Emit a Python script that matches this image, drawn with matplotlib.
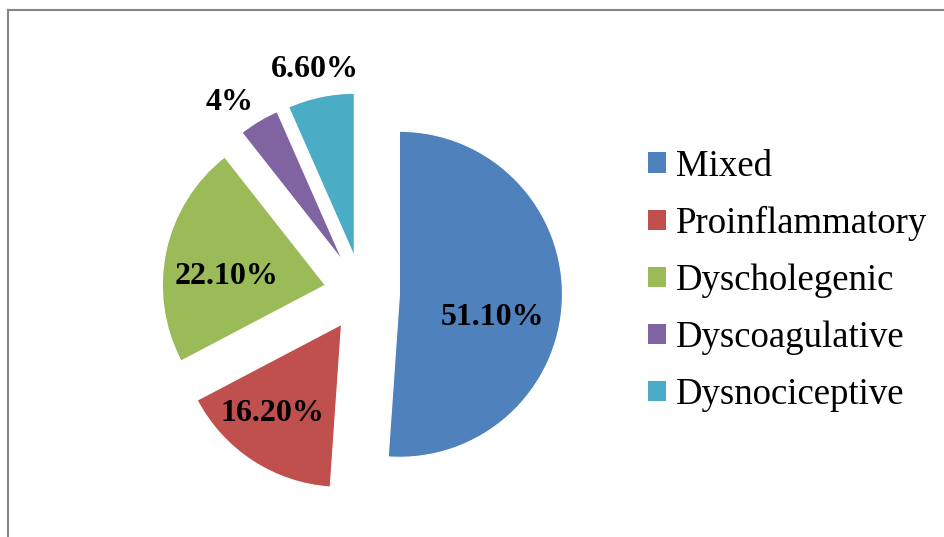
import matplotlib
matplotlib.use("Agg")
import matplotlib.pyplot as plt
from matplotlib.lines import Line2D
from matplotlib.patches import Patch

# datos del grafico
categorias = ["Mixed", "Proinflammatory", "Dyscholegenic", "Dyscoagulative", "Dysnociceptive"]
valores = [51.1, 16.2, 22.1, 4.0, 6.6]
etiquetas = ["51.10%", "16.20%", "22.10%", "4%", "6.60%"]
colores = ["#4F81BD", "#C0504D", "#9BBB59", "#8064A2", "#4BACC6"]

# posiciones de las etiquetas (coordenadas del eje)
pos_etiquetas = [(0.80, -0.15), (-0.55, -0.74), (-0.83, 0.10), (-0.81, 1.17), (-0.29, 1.37)]

plt.rcParams['font.family'] = ['Liberation Serif', 'DejaVu Serif']

W, H = 944, 537
fig = plt.figure(figsize=(W / 100, H / 100), dpi=100)

# eje del pie: radio 163 px, centro (362, 293)
r = 163
cx, cy = 362, 293
lado = 2.5 * r
ax = fig.add_axes([(cx - lado / 2) / W, (H - cy - lado / 2) / H, lado / W, lado / H])

wedges, _ = ax.pie(valores, colors=colores, startangle=90, counterclock=False,
                   explode=[0.23] * len(valores), radius=1,
                   wedgeprops=dict(linewidth=0.8, edgecolor="white"))
ax.set_xlim(-1.25, 1.25)
ax.set_ylim(-1.25, 1.25)
ax.set_aspect("equal")
ax.axis("off")

for texto, (x, y) in zip(etiquetas, pos_etiquetas):
    ax.text(x, y, texto, ha="center", va="center", fontsize=23, fontweight="bold")

# leyenda
manijas = [Patch(facecolor=c, edgecolor="none") for c in colores]
fig.legend(manijas, categorias, loc="upper left", bbox_to_anchor=(648 / W, 1 - 149 / H),
           frameon=False, fontsize=26.5, handlelength=0.49, handleheight=0.49,
           handletextpad=0.27, labelspacing=0.61, borderpad=0, borderaxespad=0)

# marco (solo izquierda y arriba visibles)
gris = "#868686"
fig.add_artist(Line2D([8 / W, 8 / W], [0, 1 - 9.5 / H], color=gris, lw=1.5))
fig.add_artist(Line2D([8 / W, 1], [1 - 9.5 / H, 1 - 9.5 / H], color=gris, lw=1.5))

plt.savefig("out.png", dpi=100)
